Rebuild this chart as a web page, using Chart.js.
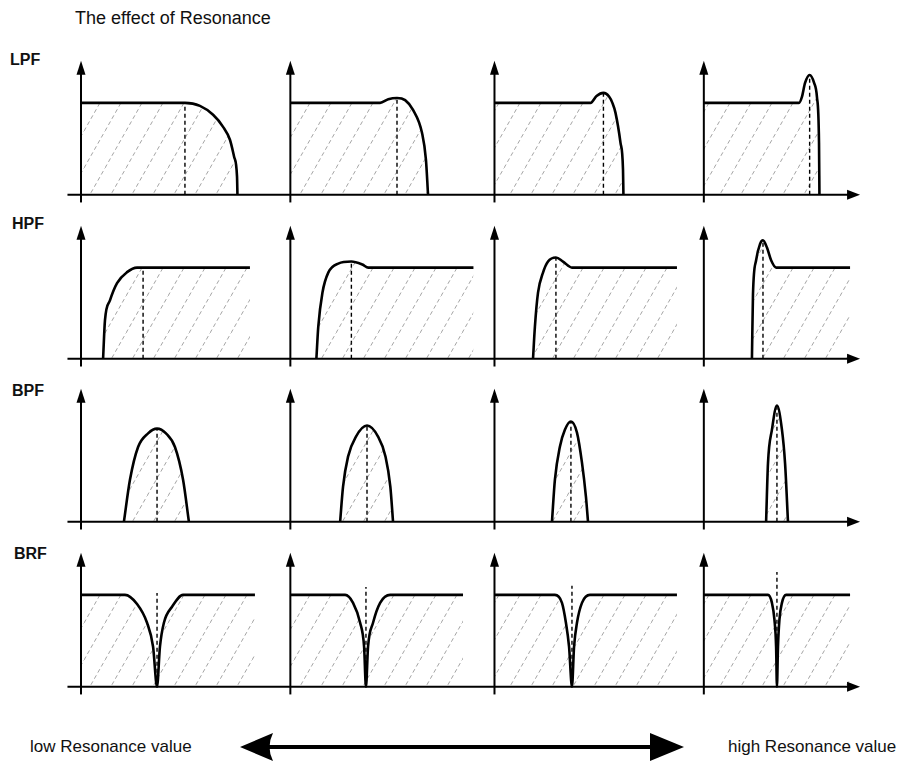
<!DOCTYPE html>
<html>
<head>
<meta charset="utf-8">
<script src="https://cdn.jsdelivr.net/npm/chart.js@4/dist/chart.umd.min.js"></script>
<style>
  body { margin: 0; background: #fff; width: 919px; height: 765px; position: relative; overflow: hidden;
         font-family: "Liberation Sans", Arial, sans-serif; color: #111; }
  .txt { position: absolute; line-height: 1; white-space: nowrap; }
  .tag { font-weight: bold; font-size: 16px; }
  canvas { position: absolute; left: 0; }
</style>
</head>
<body>
<div class="txt" style="left:75px;top:9px;font-size:18px">The effect of Resonance</div>
<div class="txt tag" style="left:10px;top:52px">LPF</div>
<div class="txt tag" style="left:12px;top:216px">HPF</div>
<div class="txt tag" style="left:12px;top:383px">BPF</div>
<div class="txt tag" style="left:14px;top:546px">BRF</div>
<div class="txt" style="left:30px;top:738px;font-size:17px">low Resonance value</div>
<div class="txt" style="left:728px;top:738px;font-size:17px">high Resonance value</div>
<svg style="position:absolute;left:0;top:720px" width="919" height="50">
  <line x1="266" y1="27" x2="656" y2="27" stroke="#000" stroke-width="4"/>
  <path d="M240 27 L273 13 Q266 27 273 41 Z" fill="#000"/>
  <path d="M684 27 L650 13 L650 41 Z" fill="#000"/>
</svg>

<script>
// rows and panels (x in frequency units, y in gain; 1 = pass band level)
const rowNames = ["LPF", "HPF", "BPF", "BRF"];
const panelOrigins = [0, 10.05, 19.85, 29.9];
const xAxisRange = [-0.65, 37.4];
const yAxisRange = [-0.085, 1.46];

// low pass
const lpfCurves = [
  [[0,1],[4.99,1],[5.71,0.967],[6.34,0.87],[6.82,0.739],[7.15,0.598],[7.35,0.413],[7.49,0.196],[7.51,0]],
  [[0,1],[4.31,1],[4.7,1.04],[5.12,1.054],[5.51,1.03],[5.89,0.924],[6.32,0.674],[6.51,0.38],[6.61,0]],
  [[0,1],[4.61,1],[4.9,1.075],[5.23,1.109],[5.5,1.07],[5.66,1.0],[5.81,0.891],[6.05,0.565],[6.17,0.272],[6.19,0]],
  [[0,1],[4.57,1],[4.71,1.065],[4.86,1.217],[5.08,1.304],[5.29,1.22],[5.43,1.065],[5.53,0.565],[5.55,0]]
];
const lpfCutoff = [4.99, 5.12, 5.23, 5.08];
const lpfCutoffTop = [1.0, 1.054, 1.109, 1.30];

// high pass
const hpfCurves = [
  [[1.06,0],[1.15,0.42],[1.39,0.64],[1.73,0.83],[2.21,0.95],[2.69,1.0],[8.11,1.0]],
  [[1.25,0],[1.34,0.35],[1.54,0.725],[1.82,0.945],[2.30,1.044],[2.93,1.066],[3.46,1.033],[3.74,1.0],[8.79,1.0]],
  [[1.85,0],[1.94,0.35],[2.09,0.725],[2.33,0.945],[2.57,1.066],[2.95,1.11],[3.29,1.066],[3.72,1.0],[8.76,1.0]],
  [[2.31,0],[2.36,0.71],[2.51,1.08],[2.70,1.26],[2.84,1.30],[3.03,1.22],[3.23,1.08],[3.47,1.0],[7.02,1.0]]
];
const hpfCutoff = [2.98, 2.93, 2.95, 2.84];
const hpfCutoffTop = [1.0, 1.066, 1.11, 1.30];

// band pass
const bpfCurves = [
  [[2.06,0],[2.35,0.46],[2.74,0.82],[3.22,0.97],[3.65,1.022],[4.08,0.97],[4.51,0.82],[4.90,0.46],[5.18,0]],
  [[2.39,0],[2.53,0.385],[2.77,0.714],[3.15,0.934],[3.68,1.055],[4.21,0.934],[4.57,0.714],[4.80,0.385],[4.93,0]],
  [[2.76,0],[2.90,0.46],[3.14,0.824],[3.38,1.01],[3.67,1.10],[3.96,0.978],[4.20,0.648],[4.39,0.275],[4.49,0]],
  [[2.99,0],[3.08,0.64],[3.27,1.01],[3.51,1.275],[3.75,1.01],[3.90,0.64],[4.04,0]]
];
const bpfCutoff = [3.65, 3.68, 3.67, 3.51];
const bpfCutoffTop = [1.022, 1.055, 1.10, 1.275];

// band reject
const brfCurves = [
  [[0,1],[2.11,1],[2.69,0.90],[3.17,0.696],[3.46,0.435],[3.65,0],[3.79,0.435],[3.98,0.696],[4.37,0.87],[4.90,1.0],[8.35,1.0]],
  [[0,1],[2.63,1],[3.01,0.913],[3.35,0.696],[3.54,0.435],[3.63,0],[3.73,0.435],[3.97,0.696],[4.31,0.913],[4.79,1],[8.29,1]],
  [[0,1],[2.90,1],[3.24,0.913],[3.43,0.696],[3.58,0.435],[3.72,0],[3.82,0.435],[3.96,0.696],[4.20,0.913],[4.58,1],[8.76,1]],
  [[0,1],[3.08,1],[3.27,0.913],[3.39,0.73],[3.47,0.435],[3.51,0],[3.56,0.435],[3.63,0.73],[3.75,0.913],[3.95,1],[7.02,1]]
];
const brfCutoff = [3.65, 3.63, 3.72, 3.51];
const brfCutoffTop = [1.02, 1.087, 1.10, 1.25];

const filters = [
  { curves: lpfCurves, cutoff: lpfCutoff, cutTop: lpfCutoffTop },
  { curves: hpfCurves, cutoff: hpfCutoff, cutTop: hpfCutoffTop },
  { curves: bpfCurves, cutoff: bpfCutoff, cutTop: bpfCutoffTop },
  { curves: brfCurves, cutoff: brfCutoff, cutTop: brfCutoffTop }
];

// where each row canvas sits on the page
const rowBoxes = [
  { top: 57, height: 156 },
  { top: 222, height: 155 },
  { top: 385, height: 155 },
  { top: 549, height: 156 }
];
const xMin = -3.889, xMax = 40.23;
const yMin = -0.2, yMax = 1.5;

function makeHatch() {
  const w = 21, h = 37;
  const c = document.createElement("canvas");
  c.width = w; c.height = h;
  const g = c.getContext("2d");
  g.strokeStyle = "rgba(70,70,70,0.55)";
  g.lineWidth = 0.9;
  g.setLineDash([4, 3]);
  g.beginPath();
  g.moveTo(0, h);
  g.lineTo(w, 0);
  g.stroke();
  return g.createPattern(c, "repeat");
}

// axes with arrow heads, one x axis per row and a y axis per panel
const filterAxes = {
  id: "filterAxes",
  afterDatasetsDraw(chart) {
    const { ctx, scales: { x, y } } = chart;
    ctx.save();
    ctx.strokeStyle = "#000";
    ctx.fillStyle = "#000";
    ctx.lineWidth = 2;
    const y0 = y.getPixelForValue(0);
    const xa = x.getPixelForValue(xAxisRange[0]);
    const xb = x.getPixelForValue(xAxisRange[1]);
    ctx.beginPath();
    ctx.moveTo(xa, y0);
    ctx.lineTo(xb - 10, y0);
    ctx.stroke();
    ctx.beginPath();
    ctx.moveTo(xb, y0);
    ctx.lineTo(xb - 13, y0 - 5);
    ctx.lineTo(xb - 13, y0 + 5);
    ctx.closePath();
    ctx.fill();

    panelOrigins.forEach(o => {
      const px = x.getPixelForValue(o);
      const ya = y.getPixelForValue(yAxisRange[0]);
      const yb = y.getPixelForValue(yAxisRange[1]);
      ctx.beginPath();
      ctx.moveTo(px, ya);
      ctx.lineTo(px, yb + 10);
      ctx.stroke();
      ctx.beginPath();
      ctx.moveTo(px, yb);
      ctx.lineTo(px - 4.5, yb + 14);
      ctx.lineTo(px + 4.5, yb + 14);
      ctx.closePath();
      ctx.fill();
    });
    ctx.restore();
  }
};

document.addEventListener("DOMContentLoaded", () => {
  filters.forEach((f, r) => {
    const canvas = document.createElement("canvas");
    canvas.width = 919;
    canvas.height = rowBoxes[r].height;
    canvas.style.top = rowBoxes[r].top + "px";
    canvas.setAttribute("aria-label", rowNames[r]);
    document.body.appendChild(canvas);
    const hatch = makeHatch();

    const datasets = [];
    f.curves.forEach((pts, i) => {
      const o = panelOrigins[i];
      datasets.push({
        data: pts.map(p => ({ x: o + p[0], y: p[1] })),
        borderColor: "#000",
        borderWidth: 2.6,
        backgroundColor: hatch,
        fill: "origin",
        cubicInterpolationMode: "monotone",
        pointRadius: 0
      });
      datasets.push({
        data: [{ x: o + f.cutoff[i], y: 0 }, { x: o + f.cutoff[i], y: f.cutTop[i] }],
        borderColor: "#000",
        borderWidth: 1.4,
        borderDash: [4, 3],
        fill: false,
        tension: 0,
        pointRadius: 0
      });
    });

    new Chart(canvas, {
      type: "line",
      data: { datasets },
      options: {
        responsive: false,
        animation: false,
        events: [],
        layout: { padding: 0 },
        plugins: { legend: { display: false }, tooltip: { enabled: false } },
        scales: {
          x: { type: "linear", min: xMin, max: xMax, display: false },
          y: { type: "linear", min: yMin, max: yMax, display: false }
        }
      },
      plugins: [filterAxes]
    });
  });
});
</script>
</body>
</html>
